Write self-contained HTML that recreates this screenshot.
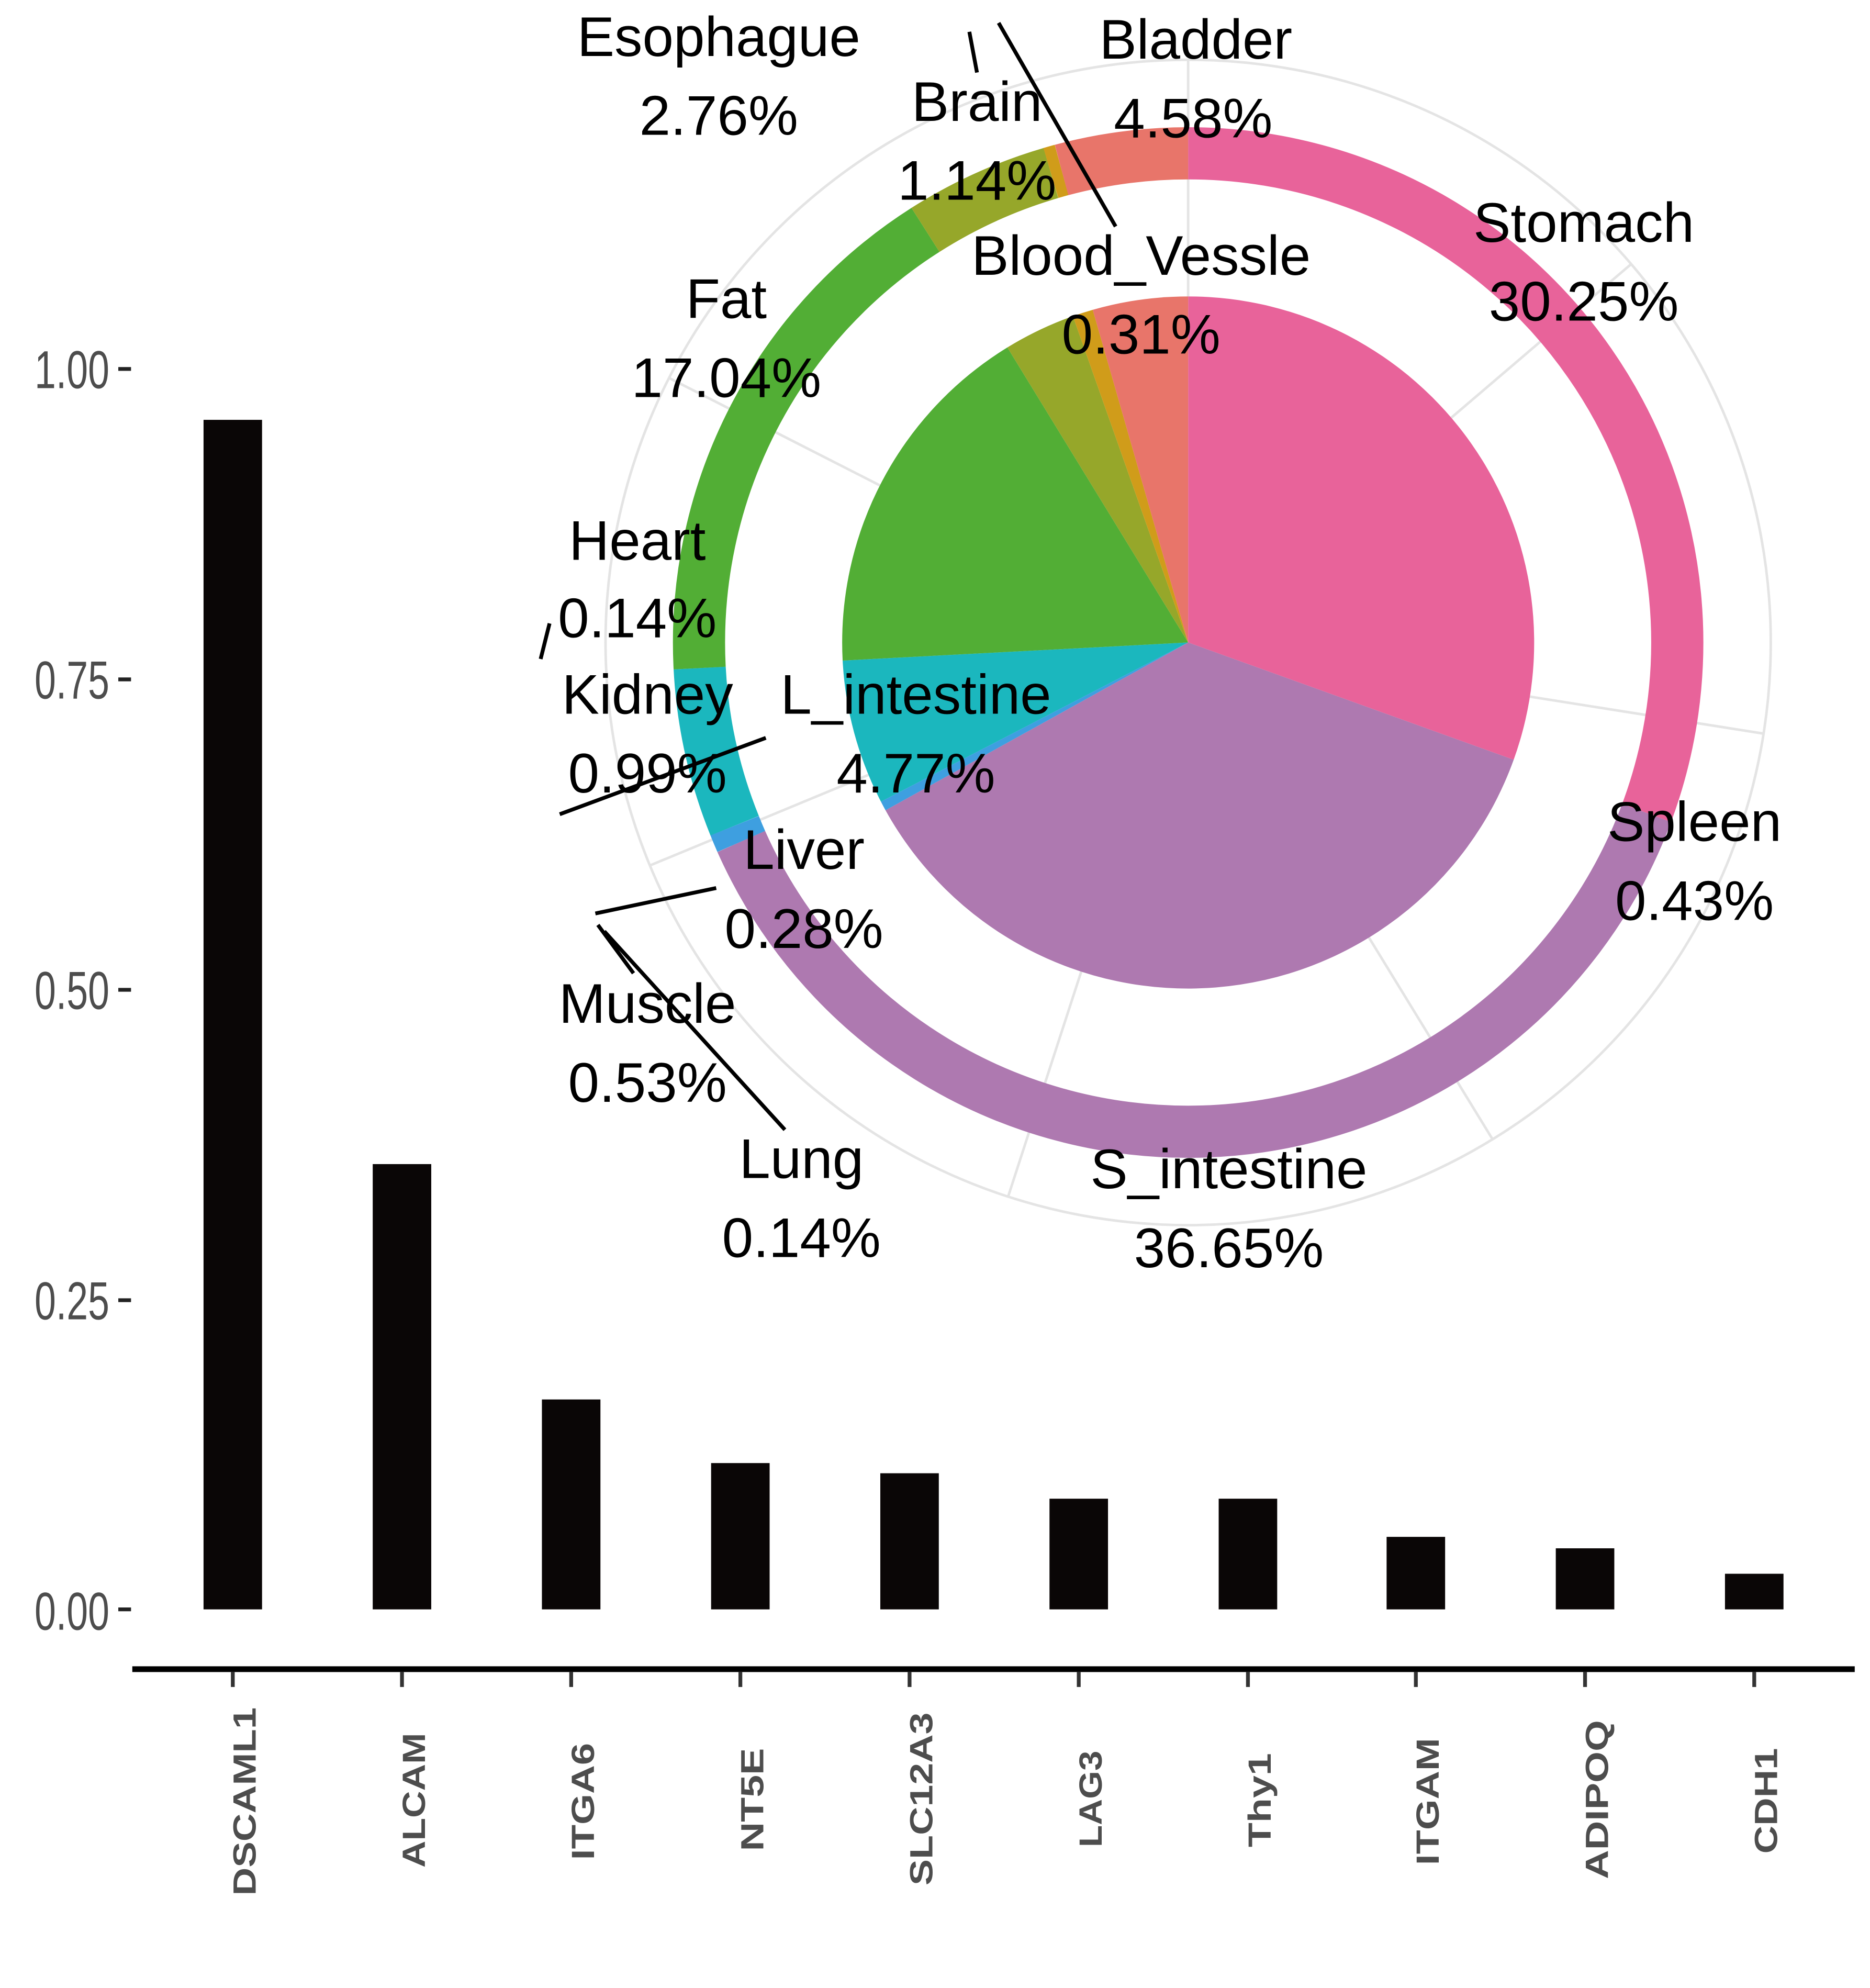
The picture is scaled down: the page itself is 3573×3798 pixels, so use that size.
<!DOCTYPE html>
<html><head><meta charset="utf-8"><style>html,body{margin:0;padding:0;background:#fff}svg{display:block}</style></head>
<body>
<svg width="3573" height="3798" viewBox="0 0 1470 1562.6" preserveAspectRatio="none" xmlns="http://www.w3.org/2000/svg">
<rect width="1470" height="1563" fill="#fff"/>
<g font-family="Liberation Sans Narrow, Liberation Sans, sans-serif" font-size="42" fill="#4d4d4d" text-anchor="end">
<g transform="translate(86,0) scale(0.72,1)">
<text x="0" y="305">1.00</text><text x="0" y="549">0.75</text><text x="0" y="793">0.50</text><text x="0" y="1037">0.25</text><text x="0" y="1281">0.00</text>
</g></g>
<g stroke="#222" stroke-width="3">
<line x1="93" y1="290" x2="103" y2="290"/><line x1="93" y1="534" x2="103" y2="534"/><line x1="93" y1="778" x2="103" y2="778"/><line x1="93" y1="1022" x2="103" y2="1022"/><line x1="93" y1="1265" x2="103" y2="1265"/>
</g>
<g fill="#0a0606">
<rect x="160" y="330" width="46" height="935"/><rect x="293" y="915" width="46" height="350"/><rect x="426" y="1100" width="46" height="165"/><rect x="559" y="1150" width="46" height="115"/><rect x="692" y="1158" width="46" height="107"/><rect x="825" y="1178" width="46" height="87"/><rect x="958" y="1178" width="46" height="87"/><rect x="1090" y="1208" width="46" height="57"/><rect x="1223" y="1217" width="46" height="48"/><rect x="1356" y="1237" width="46" height="28"/>
</g>
<line x1="104" y1="1312" x2="1458" y2="1312" stroke="#000" stroke-width="4.5"/>
<g stroke="#333" stroke-width="3">
<line x1="183" y1="1314" x2="183" y2="1326"/><line x1="316" y1="1314" x2="316" y2="1326"/><line x1="449" y1="1314" x2="449" y2="1326"/><line x1="582" y1="1314" x2="582" y2="1326"/><line x1="715" y1="1314" x2="715" y2="1326"/><line x1="848" y1="1314" x2="848" y2="1326"/><line x1="981" y1="1314" x2="981" y2="1326"/><line x1="1113" y1="1314" x2="1113" y2="1326"/><line x1="1246" y1="1314" x2="1246" y2="1326"/><line x1="1379" y1="1314" x2="1379" y2="1326"/>
</g>
<g font-family="Liberation Sans, sans-serif" font-weight="bold" font-size="25" fill="#4d4d4d" text-anchor="end" lengthAdjust="spacingAndGlyphs">
<text transform="translate(201,1342) rotate(-90)" textLength="148" lengthAdjust="spacingAndGlyphs">DSCAML1</text>
<text transform="translate(334,1362) rotate(-90)" textLength="106" lengthAdjust="spacingAndGlyphs">ALCAM</text>
<text transform="translate(467,1370) rotate(-90)" textLength="92" lengthAdjust="spacingAndGlyphs">ITGA6</text>
<text transform="translate(600,1374) rotate(-90)" textLength="81" lengthAdjust="spacingAndGlyphs">NT5E</text>
<text transform="translate(733,1346) rotate(-90)" textLength="136" lengthAdjust="spacingAndGlyphs">SLC12A3</text>
<text transform="translate(866,1376) rotate(-90)" textLength="76" lengthAdjust="spacingAndGlyphs">LAG3</text>
<text transform="translate(999,1378) rotate(-90)" textLength="74" lengthAdjust="spacingAndGlyphs">Thy1</text>
<text transform="translate(1131,1366) rotate(-90)" textLength="100" lengthAdjust="spacingAndGlyphs">ITGAM</text>
<text transform="translate(1264,1352) rotate(-90)" textLength="125" lengthAdjust="spacingAndGlyphs">ADIPOQ</text>
<text transform="translate(1397,1374) rotate(-90)" textLength="83" lengthAdjust="spacingAndGlyphs">CDH1</text>
</g>
<g transform="translate(934,505)">
<circle r="458" fill="none" stroke="#e4e4e4" stroke-width="2"/>
<g stroke="#e4e4e4" stroke-width="2">
<line x1="0" y1="-272" x2="0" y2="-458" transform="rotate(0)"/>
<line x1="0" y1="-272" x2="0" y2="-458" transform="rotate(49.5)"/>
<line x1="0" y1="-272" x2="0" y2="-458" transform="rotate(99)"/>
<line x1="0" y1="-272" x2="0" y2="-458" transform="rotate(148.5)"/>
<line x1="0" y1="-272" x2="0" y2="-458" transform="rotate(198)"/>
<line x1="0" y1="-272" x2="0" y2="-458" transform="rotate(247.5)"/>
<line x1="0" y1="-272" x2="0" y2="-458" transform="rotate(297)"/>
</g>
<path d="M0 0 L0 -272 A272 272 0 0 1 255.9 92.2 Z" fill="#E8639A"/>
<path d="M0 0 L255.9 92.2 A272 272 0 0 1 -237.9 131.9 Z" fill="#AE79B0"/>
<path d="M0 0 L-237.9 131.9 A272 272 0 0 1 -241.5 125.1 Z" fill="#3E9FE0"/>
<path d="M0 0 L-241.5 125.1 A272 272 0 0 1 -271.6 14.2 Z" fill="#1BB7BE"/>
<path d="M0 0 L-271.6 14.2 A272 272 0 0 1 -142.1 -231.9 Z" fill="#52AE35"/>
<path d="M0 0 L-142.1 -231.9 A272 272 0 0 1 -90.6 -256.5 Z" fill="#96A72A"/>
<path d="M0 0 L-90.6 -256.5 A272 272 0 0 1 -75 -261.5 Z" fill="#D09C1A"/>
<path d="M0 0 L-75 -261.5 A272 272 0 0 1 0 -272 Z" fill="#E8756A"/>
<g fill="none" stroke-width="41">
<path d="M0 -384.5 A384.5 384.5 0 0 1 360.4 134.0" stroke="#E8639A"/>
<path d="M360.4 134.0 A384.5 384.5 0 0 1 -351.3 156.4" stroke="#AE79B0"/>
<path d="M-351.3 156.4 A384.5 384.5 0 0 1 -356.5 144.0" stroke="#3E9FE0"/>
<path d="M-356.5 144.0 A384.5 384.5 0 0 1 -384 20.1" stroke="#1BB7BE"/>
<path d="M-384 20.1 A384.5 384.5 0 0 1 -206.5 -324.3" stroke="#52AE35"/>
<path d="M-206.5 -324.3 A384.5 384.5 0 0 1 -107.9 -369.0" stroke="#96A72A"/>
<path d="M-107.9 -369.0 A384.5 384.5 0 0 1 -99.5 -371.4" stroke="#D09C1A"/>
<path d="M-99.5 -371.4 A384.5 384.5 0 0 1 0 -384.5" stroke="#E8756A"/>
</g>
</g>
<g stroke="#000" stroke-width="3" fill="none">
<line x1="762" y1="25" x2="768" y2="57"/>
<line x1="785" y1="18" x2="877" y2="178"/>
<line x1="425" y1="518" x2="432" y2="490"/>
<line x1="440" y1="640" x2="602" y2="580"/>
<line x1="468" y1="718" x2="563" y2="698"/>
<line x1="470" y1="727" x2="498" y2="765"/>
<line x1="475" y1="732" x2="617" y2="888"/>
</g>
<g font-family="Liberation Sans, sans-serif" font-size="44" fill="#000" text-anchor="middle">
<text x="565" y="44">Esophague</text><text x="565" y="106">2.76%</text>
<text x="940" y="46">Bladder</text><text x="938" y="108">4.58%</text>
<text x="768" y="95">Brain</text><text x="768" y="157">1.14%</text>
<text x="1245" y="190">Stomach</text><text x="1245" y="252">30.25%</text>
<text x="897" y="216">Blood_Vessle</text><text x="897" y="278">0.31%</text>
<text x="571" y="250">Fat</text><text x="571" y="312">17.04%</text>
<text x="501" y="440">Heart</text><text x="501" y="501">0.14%</text>
<text x="509" y="561">Kidney</text><text x="509" y="623">0.99%</text>
<text x="720" y="561">L_intestine</text><text x="720" y="623">4.77%</text>
<text x="1332" y="661">Spleen</text><text x="1332" y="723">0.43%</text>
<text x="632" y="683">Liver</text><text x="632" y="745">0.28%</text>
<text x="509" y="804">Muscle</text><text x="509" y="866">0.53%</text>
<text x="630" y="926">Lung</text><text x="630" y="988">0.14%</text>
<text x="966" y="934">S_intestine</text><text x="966" y="996">36.65%</text>
</g>
</svg>
</body></html>
